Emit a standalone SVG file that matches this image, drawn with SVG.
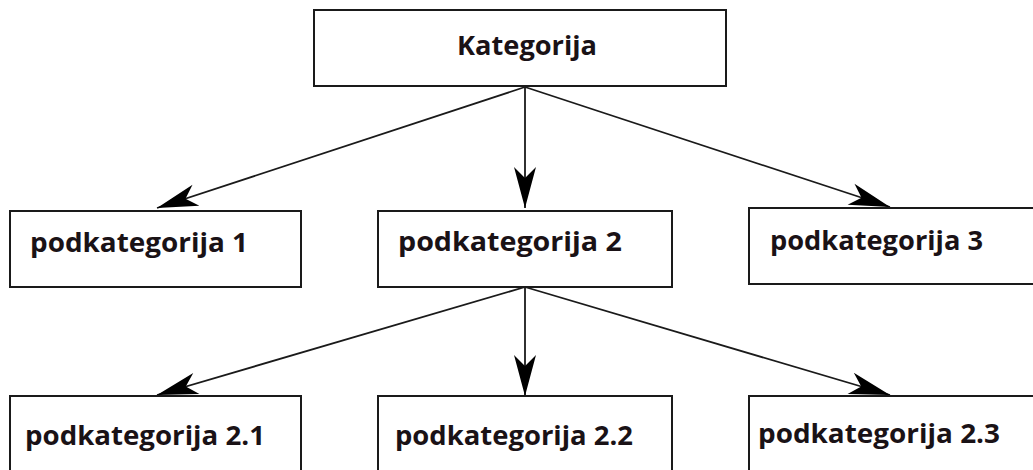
<svg xmlns="http://www.w3.org/2000/svg" width="1033" height="470" viewBox="0 0 1033 470">
<style>
.box{fill:#fff;stroke:#1a1a1a;stroke-width:2}
.lbl{font-family:"Open Sans","Noto Sans",sans-serif;font-weight:bold;font-size:27px;fill:#1a1216}
.edge{stroke:#1a1a1a;stroke-width:1.8;fill:none;marker-end:url(#ah)}
</style>
<defs>
<marker id="ah" markerUnits="userSpaceOnUse" viewBox="-44 -14 46 28" markerWidth="46" markerHeight="28" refX="0" refY="0" orient="auto">
<path d="M0,0 L-41,-11 L-30,0 L-41,11 Z" fill="#000"/>
</marker>
</defs>
<rect width="1033" height="470" fill="#fff"/>
<g id="connectors">
<line class="edge" x1="525" y1="87" x2="157" y2="208"/>
<line class="edge" x1="525" y1="87" x2="525" y2="208"/>
<line class="edge" x1="525" y1="87" x2="890" y2="207"/>
<line class="edge" x1="525" y1="287" x2="157" y2="395"/>
<line class="edge" x1="525" y1="287" x2="525" y2="396"/>
<line class="edge" x1="525" y1="287" x2="890" y2="395"/>
</g>
<g id="kategorija">
<rect class="box" x="314" y="10" width="412" height="76"/>
<text class="lbl" x="457" y="55" textLength="140" lengthAdjust="spacingAndGlyphs">Kategorija</text>
</g>
<g id="podkategorija1">
<rect class="box" x="10" y="211" width="291" height="76"/>
<text class="lbl" x="30" y="252" textLength="218" lengthAdjust="spacingAndGlyphs">podkategorija 1</text>
</g>
<g id="podkategorija2">
<rect class="box" x="378" y="211" width="294" height="76"/>
<text class="lbl" x="398" y="251" textLength="224" lengthAdjust="spacingAndGlyphs">podkategorija 2</text>
</g>
<g id="podkategorija3">
<rect class="box" x="749" y="208" width="300" height="76"/>
<text class="lbl" x="770" y="250" textLength="213" lengthAdjust="spacingAndGlyphs">podkategorija 3</text>
</g>
<g id="podkategorija2_1">
<rect class="box" x="10" y="396" width="291" height="90"/>
<text class="lbl" x="25" y="445" textLength="240" lengthAdjust="spacingAndGlyphs">podkategorija 2.1</text>
</g>
<g id="podkategorija2_2">
<rect class="box" x="378" y="396" width="294" height="90"/>
<text class="lbl" x="395" y="445" textLength="238" lengthAdjust="spacingAndGlyphs">podkategorija 2.2</text>
</g>
<g id="podkategorija2_3">
<rect class="box" x="749" y="396" width="300" height="90"/>
<text class="lbl" x="758" y="443" textLength="242" lengthAdjust="spacingAndGlyphs">podkategorija 2.3</text>
</g>
</svg>
